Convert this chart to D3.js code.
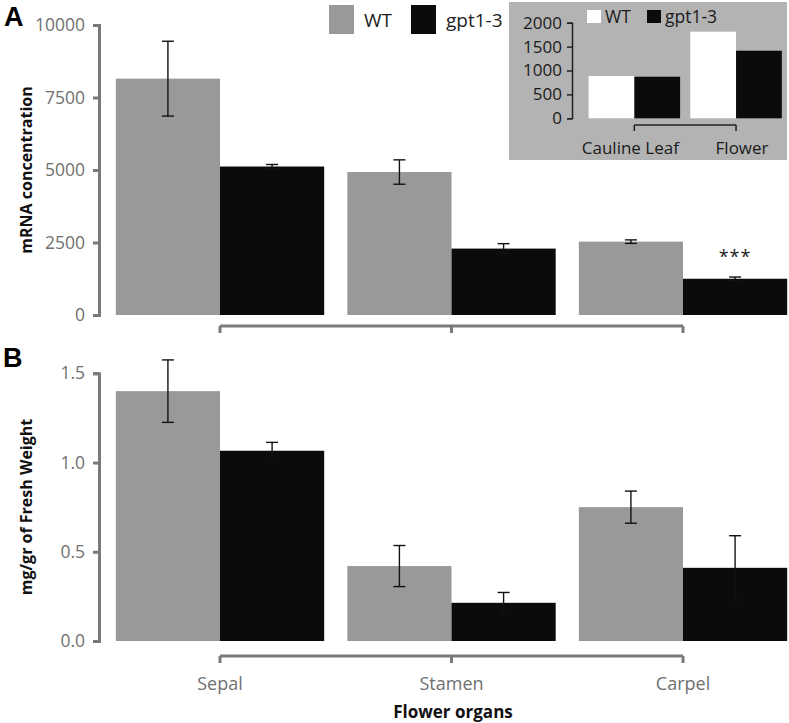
<!DOCTYPE html>
<html><head><meta charset="utf-8">
<script src="https://cdn.jsdelivr.net/npm/d3@7"></script>
<style>body{margin:0;background:#fff}svg{display:block}text{font-family:"Open Sans",sans-serif}</style>
</head><body><svg id="c" width="789" height="723"></svg>
<script>
// ---- data ----
const organs = ["Sepal", "Stamen", "Carpel"];
const series = ["WT", "gpt1-3"];
const mrnaWT = [8150, 4930, 2530];
const mrnaWTerr = [1290, 420, 60];
const mrnaGpt = [5120, 2290, 1250];
const mrnaGptErr = [70, 170, 60];
const mrnaTicks = [0, 2500, 5000, 7500, 10000];
const fwWT = [1.40, 0.42, 0.75];
const fwWTerr = [0.175, 0.115, 0.09];
const fwGpt = [1.066, 0.214, 0.41];
const fwGptErr = [0.047, 0.058, 0.18];
const fwTicks = [0, 0.5, 1.0, 1.5];
const insetCats = ["Cauline Leaf", "Flower"];
const insetWT = [885, 1812];
const insetGpt = [870, 1414];
const insetTicks = [0, 500, 1000, 1500, 2000];

const svg = d3.select("#c");
const colMain = {"WT": "#999999", "gpt1-3": "#0b0b0b"};
const colInset = {"WT": "#ffffff", "gpt1-3": "#0b0b0b"};
const axisCol = "#7a7a7a";

const x = d3.scaleBand().domain(organs).range([104.25, 798.75]).paddingInner(0.1).paddingOuter(0.05);
const xs = d3.scaleBand().domain(series).range([0, x.bandwidth()]);

function panel(yScale, wt, wtErr, gp, gpErr, ticks, fmt, title, titleY, bracketY) {
  const g = svg.append("g");
  const rows = organs.map((o, i) => ({o, vals: [
    {s: "WT", v: wt[i], e: wtErr[i]}, {s: "gpt1-3", v: gp[i], e: gpErr[i]}]}));
  const grp = g.selectAll("g.grp").data(rows).join("g")
    .attr("transform", d => `translate(${x(d.o)},0)`);
  grp.selectAll("rect").data(d => d.vals).join("rect")
    .attr("x", d => xs(d.s)).attr("width", xs.bandwidth())
    .attr("y", d => yScale(d.v)).attr("height", d => yScale(0) - yScale(d.v))
    .attr("fill", d => colMain[d.s]);
  const eb = grp.selectAll("g.eb").data(d => d.vals).join("g")
    .attr("stroke", "#121212").attr("stroke-width", 1.4);
  eb.append("line").attr("x1", d => xs(d.s) + xs.bandwidth()/2).attr("x2", d => xs(d.s) + xs.bandwidth()/2)
    .attr("y1", d => yScale(d.v + d.e)).attr("y2", d => yScale(d.v - d.e));
  [1, -1].forEach(k => eb.append("line")
    .attr("x1", d => xs(d.s) + xs.bandwidth()/2 - 6).attr("x2", d => xs(d.s) + xs.bandwidth()/2 + 6)
    .attr("y1", d => yScale(d.v + k*d.e)).attr("y2", d => yScale(d.v + k*d.e)));
  // y axis
  const ya = g.append("g").attr("transform", "translate(99,0)")
    .call(d3.axisLeft(yScale).tickValues(ticks).tickFormat(fmt).tickSizeOuter(0).tickSize(6).tickPadding(8));
  ya.select(".domain").attr("stroke", axisCol).attr("stroke-width", 3);
  ya.selectAll(".tick line").attr("stroke", axisCol).attr("stroke-width", 3);
  ya.selectAll(".tick text").attr("fill", "#707070").style("font-size", "17.5px").style("font-family", "'Open Sans',sans-serif");
  // title
  g.append("text").attr("transform", `translate(32,${titleY}) rotate(-90)`)
    .attr("text-anchor", "middle").style("font-weight", "bold").style("font-size", "16px")
    .attr("fill", "#111").text(title);
  // bracket axis
  const xa = g.append("g").attr("transform", `translate(0,${bracketY})`)
    .call(d3.axisBottom(x).tickSizeOuter(0).tickSize(7).tickFormat(""));
  xa.select(".domain").attr("d", `M${x(organs[0]) + x.bandwidth()/2},0H${x(organs[2]) + x.bandwidth()/2}`)
    .attr("stroke", axisCol).attr("stroke-width", 3);
  xa.selectAll(".tick line").attr("stroke", axisCol).attr("stroke-width", 3);
  return g;
}

const yA = d3.scaleLinear().domain([0, 10000]).range([315, 25]);
const yB = d3.scaleLinear().domain([0, 1.5]).range([641, 373.3]);
panel(yA, mrnaWT, mrnaWTerr, mrnaGpt, mrnaGptErr, mrnaTicks, d3.format("d"), "mRNA concentration", 170, 326);
panel(yB, fwWT, fwWTerr, fwGpt, fwGptErr, fwTicks, d3.format(".1f"), "mg/gr of Fresh Weight", 507, 656);

// significance
svg.append("text").attr("x", x("Carpel") + xs("gpt1-3") + xs.bandwidth()/2).attr("y", 263)
  .attr("text-anchor", "middle").style("font-size", "18px").style("letter-spacing", "1px").attr("fill", "#222").text("***");

// category labels
svg.selectAll("text.cat").data(organs).join("text").attr("class", "cat")
  .attr("x", d => x(d) + x.bandwidth()/2).attr("y", 690).attr("text-anchor", "middle")
  .attr("fill", "#707070").style("font-size", "18px").text(d => d);
svg.append("text").attr("x", 453).attr("y", 718).attr("text-anchor", "middle")
  .style("font-weight", "bold").style("font-size", "17px").attr("fill", "#111").text("Flower organs");

// panel letters
svg.append("text").attr("x", 4).attr("y", 26).style("font-family", "'Liberation Sans',Arial,sans-serif")
  .style("font-weight", "bold").style("font-size", "27px").attr("fill", "#000").text("A");
svg.append("text").attr("x", 3).attr("y", 367).style("font-family", "'Liberation Sans',Arial,sans-serif")
  .style("font-weight", "bold").style("font-size", "27px").attr("fill", "#000").text("B");

// main legend
const leg = svg.append("g");
const legX = [329, 411];
series.forEach((s, i) => {
  leg.append("rect").attr("x", legX[i]).attr("y", 5).attr("width", 25).attr("height", 29).attr("fill", colMain[s]);
  leg.append("text").attr("x", legX[i] + 35).attr("y", 27).style("font-size", "19px").attr("fill", "#222").text(s);
});

// inset
const inset = svg.append("g");
inset.append("rect").attr("x", 509).attr("y", 2).attr("width", 278).attr("height", 158).attr("fill", "#b3b3b3");
const yI = d3.scaleLinear().domain([0, 2000]).range([118.3, 22.7]);
const xI = d3.scaleBand().domain(insetCats).range([583.5, 786.9]).paddingInner(0.1).paddingOuter(0.05);
const xIs = d3.scaleBand().domain(series).range([0, xI.bandwidth()]);
const irows = insetCats.map((c, i) => ({c, vals: [{s: "WT", v: insetWT[i]}, {s: "gpt1-3", v: insetGpt[i]}]}));
inset.selectAll("g.ig").data(irows).join("g").attr("transform", d => `translate(${xI(d.c)},0)`)
  .selectAll("rect").data(d => d.vals).join("rect")
  .attr("x", d => xIs(d.s)).attr("width", xIs.bandwidth())
  .attr("y", d => yI(d.v)).attr("height", d => yI(0) - yI(d.v)).attr("fill", d => colInset[d.s]);
const iya = inset.append("g").attr("transform", "translate(572,0)")
  .call(d3.axisLeft(yI).tickValues(insetTicks).tickFormat(d3.format("d")).tickSizeOuter(0).tickSize(5).tickPadding(5));
iya.select(".domain").attr("stroke", "#222").attr("stroke-width", 1.5);
iya.selectAll(".tick line").attr("stroke", "#222").attr("stroke-width", 1.5);
iya.selectAll(".tick text").attr("fill", "#1a1a1a").style("font-size", "17px").style("font-family", "'Open Sans',sans-serif");
const ixa = inset.append("g").attr("transform", "translate(0,125)")
  .call(d3.axisBottom(xI).tickSizeOuter(0).tickSize(6).tickFormat(""));
ixa.select(".domain").attr("d", `M${xI(insetCats[0]) + xI.bandwidth()/2},0H${xI(insetCats[1]) + xI.bandwidth()/2}`)
  .attr("stroke", "#222").attr("stroke-width", 1.5);
ixa.selectAll(".tick line").attr("stroke", "#222").attr("stroke-width", 1.5);
inset.selectAll("text.ic").data(insetCats).join("text").attr("class", "ic")
  .attr("x", (d, i) => xI(d) + xI.bandwidth()/2 + (i === 0 ? -4 : 6)).attr("y", 154)
  .attr("text-anchor", "middle").style("font-size", "17px").attr("fill", "#1a1a1a").text(d => d);
const ilX = [587, 647];
series.forEach((s, i) => {
  inset.append("rect").attr("x", ilX[i]).attr("y", 10).attr("width", 14).attr("height", 13).attr("fill", colInset[s]);
  inset.append("text").attr("x", ilX[i] + 18).attr("y", 23).style("font-size", "17.5px").attr("fill", "#1a1a1a").text(s);
});
</script></body></html>
